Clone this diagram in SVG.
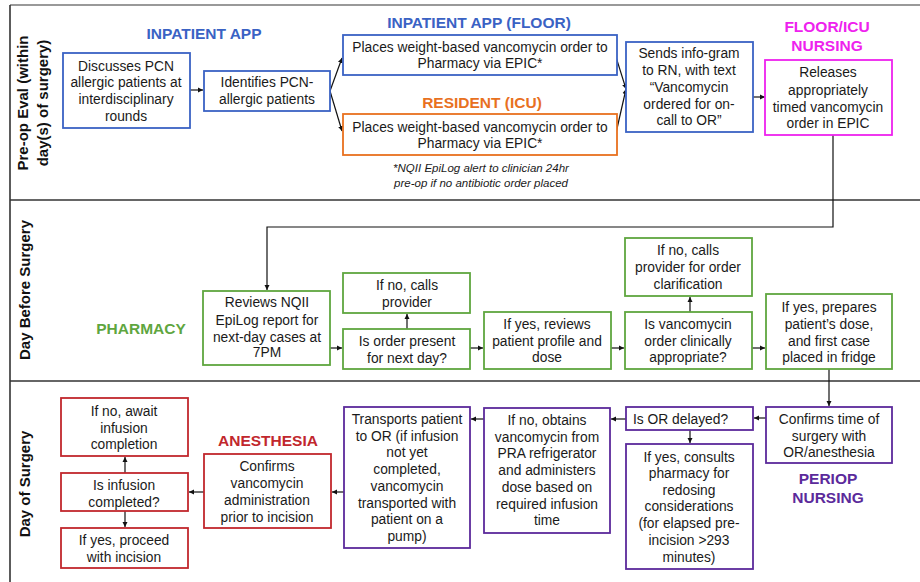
<svg xmlns="http://www.w3.org/2000/svg" width="920" height="582" viewBox="0 0 920 582">
<style>
text{font-family:"Liberation Sans",Arial,sans-serif;}
.t{font-size:13.8px;fill:#1a1a1a;text-anchor:middle;}
.h{font-size:15.5px;font-weight:bold;text-anchor:middle;}
.lane{font-size:15px;font-weight:bold;fill:#111;text-anchor:middle;}
.fn{font-size:11.5px;font-style:italic;fill:#1a1a1a;text-anchor:middle;}
rect{fill:#fff;stroke-width:1.8;}
.blue{stroke:#3a62c4;}
.orange{stroke:#e8711f;}
.mag{stroke:#ee22ee;}
.green{stroke:#5fa63f;}
.red{stroke:#c1272d;}
.purple{stroke:#5b2a9b;}
.c{fill:none;stroke:#111;stroke-width:1.2;marker-end:url(#ah);}
.frame{fill:none;stroke:#333;stroke-width:1.6;}
</style>
<defs>
<marker id="ah" markerWidth="6" markerHeight="6" refX="5" refY="3" orient="auto" markerUnits="userSpaceOnUse">
<path d="M0,0.5 L5,3 L0,5.5 z" fill="#111"/>
</marker>
</defs>
<rect x="0" y="0" width="920" height="582" style="fill:#fff;stroke:none"/>
<g id="frame">
<line x1="10" y1="5" x2="920" y2="5" class="frame" style="stroke:#777"/>
<line x1="10" y1="5" x2="10" y2="582" class="frame"/>
<line x1="10" y1="200" x2="920" y2="200" class="frame"/>
<line x1="10" y1="381" x2="920" y2="381" class="frame"/>
</g>
<g id="lanes">
<text class="lane" transform="translate(28,103) rotate(-90)">Pre-op Eval (within</text>
<text class="lane" transform="translate(48,103) rotate(-90)">day(s) of surgery)</text>
<text class="lane" transform="translate(30,290) rotate(-90)">Day Before Surgery</text>
<text class="lane" transform="translate(30,484) rotate(-90)">Day of Surgery</text>
</g>
<g id="headers">
<text class="h" x="204" y="39" fill="#3a62c4">INPATIENT APP</text>
<text class="h" x="479" y="28" fill="#3a62c4">INPATIENT APP (FLOOR)</text>
<text class="h" x="482" y="108" fill="#e8711f">RESIDENT (ICU)</text>
<text class="h" x="827" y="32" fill="#ee22ee">FLOOR/ICU</text>
<text class="h" x="827" y="51" fill="#ee22ee">NURSING</text>
<text class="h" x="141" y="334" fill="#5fa63f">PHARMACY</text>
<text class="h" x="268" y="446" fill="#c1272d">ANESTHESIA</text>
<text class="h" x="828" y="484" fill="#5b2a9b">PERIOP</text>
<text class="h" x="828" y="503" fill="#5b2a9b">NURSING</text>
</g>
<g id="footnote">
<text class="fn" x="481" y="172">*NQII EpiLog alert to clinician 24hr</text>
<text class="fn" x="481" y="187">pre-op if no antibiotic order placed</text>
</g>
<g id="connectors">
<path class="c" d="M190,90 L203,90"/>
<path class="c" d="M330,91 L342,58"/>
<path class="c" d="M330,91 L342,131"/>
<path class="c" d="M616,57 L626,89"/>
<path class="c" d="M616,133 L626,89"/>
<path class="c" d="M753,97 L765,97"/>
<path class="c" d="M833,135 L833,227 L267,227 L267,290"/>
<path class="c" d="M330,348 L342,348"/>
<path class="c" d="M407,329 L407,314"/>
<path class="c" d="M470,348 L483,348"/>
<path class="c" d="M611,348 L624,348"/>
<path class="c" d="M690,312 L690,297"/>
<path class="c" d="M752,348 L765,348"/>
<path class="c" d="M829,369 L829,406"/>
<path class="c" d="M766,418 L754,418"/>
<path class="c" d="M626,419 L611,419"/>
<path class="c" d="M690,430 L690,443"/>
<path class="c" d="M484,419 L471,419"/>
<path class="c" d="M344,492 L332,492"/>
<path class="c" d="M204,492 L189,492"/>
<path class="c" d="M125,473 L125,457"/>
<path class="c" d="M125,511 L125,527"/>
</g>
<g id="n1"><rect class="blue" x="63" y="53" width="127" height="75"/>
<text class="t" x="126" y="71">Discusses PCN</text><text class="t" x="126" y="87">allergic patients at</text><text class="t" x="126" y="104">interdisciplinary</text><text class="t" x="126" y="121">rounds</text></g>
<g id="n2"><rect class="blue" x="204" y="71" width="126" height="40"/>
<text class="t" x="267" y="87">Identifies PCN-</text><text class="t" x="267" y="104">allergic patients</text></g>
<g id="n3"><rect class="blue" x="343" y="35" width="274" height="40"/>
<text class="t" x="480" y="52">Places weight-based vancomycin order to</text><text class="t" x="480" y="68">Pharmacy via EPIC*</text></g>
<g id="n4"><rect class="orange" x="343" y="114" width="274" height="41"/>
<text class="t" x="480" y="132">Places weight-based vancomycin order to</text><text class="t" x="480" y="148">Pharmacy via EPIC*</text></g>
<g id="n5"><rect class="blue" x="626" y="42" width="127" height="90"/>
<text class="t" x="689" y="58">Sends info-gram</text><text class="t" x="689" y="75">to RN, with text</text><text class="t" x="689" y="92">“Vancomycin</text><text class="t" x="689" y="109">ordered for on-</text><text class="t" x="689" y="125">call to OR”</text></g>
<g id="n6"><rect class="mag" x="765" y="60" width="127" height="75"/>
<text class="t" x="828" y="77">Releases</text><text class="t" x="828" y="95">appropriately</text><text class="t" x="828" y="112">timed vancomycin</text><text class="t" x="828" y="128">order in EPIC</text></g>
<g id="n7"><rect class="green" x="203" y="291" width="127" height="74"/>
<text class="t" x="267" y="307">Reviews NQII</text><text class="t" x="267" y="325">EpiLog report for</text><text class="t" x="267" y="342">next-day cases at</text><text class="t" x="267" y="357">7PM</text></g>
<g id="n8"><rect class="green" x="343" y="273" width="127" height="40"/>
<text class="t" x="407" y="290">If no, calls</text><text class="t" x="407" y="307">provider</text></g>
<g id="n9"><rect class="green" x="343" y="329" width="127" height="40"/>
<text class="t" x="407" y="346">Is order present</text><text class="t" x="407" y="363">for next day?</text></g>
<g id="n10"><rect class="green" x="484" y="312" width="127" height="57"/>
<text class="t" x="547" y="329">If yes, reviews</text><text class="t" x="547" y="346">patient profile and</text><text class="t" x="547" y="362">dose</text></g>
<g id="n11"><rect class="green" x="625" y="312" width="127" height="57"/>
<text class="t" x="688" y="329">Is vancomycin</text><text class="t" x="688" y="346">order clinically</text><text class="t" x="688" y="362">appropriate?</text></g>
<g id="n12"><rect class="green" x="625" y="238" width="127" height="58"/>
<text class="t" x="688" y="255">If no, calls</text><text class="t" x="688" y="272">provider for order</text><text class="t" x="688" y="289">clarification</text></g>
<g id="n13"><rect class="green" x="766" y="294" width="126" height="75"/>
<text class="t" x="829" y="312">If yes, prepares</text><text class="t" x="829" y="329">patient’s dose,</text><text class="t" x="829" y="346">and first case</text><text class="t" x="829" y="362">placed in fridge</text></g>
<g id="n14"><rect class="purple" x="766" y="407" width="126" height="56"/>
<text class="t" x="829" y="424">Confirms time of</text><text class="t" x="829" y="441">surgery with</text><text class="t" x="829" y="457">OR/anesthesia</text></g>
<g id="n15"><rect class="purple" x="626" y="407" width="127" height="23"/>
<text class="t" x="633" y="424" style="text-anchor:start">Is OR delayed?</text></g>
<g id="n16"><rect class="purple" x="626" y="444" width="127" height="125"/>
<text class="t" x="689" y="462">If yes, consults</text><text class="t" x="689" y="478">pharmacy for</text><text class="t" x="689" y="495">redosing</text><text class="t" x="689" y="511">considerations</text><text class="t" x="689" y="528">(for elapsed pre-</text><text class="t" x="689" y="545">incision &gt;293</text><text class="t" x="689" y="562">minutes)</text></g>
<g id="n17"><rect class="purple" x="484" y="408" width="126" height="125"/>
<text class="t" x="547" y="425">If no, obtains</text><text class="t" x="547" y="442">vancomycin from</text><text class="t" x="547" y="458">PRA refrigerator</text><text class="t" x="547" y="475">and administers</text><text class="t" x="547" y="492">dose based on</text><text class="t" x="547" y="509">required infusion</text><text class="t" x="547" y="525">time</text></g>
<g id="n18"><rect class="purple" x="344" y="407" width="126" height="141"/>
<text class="t" x="407" y="424">Transports patient</text><text class="t" x="407" y="441">to OR (if infusion</text><text class="t" x="407" y="457">not yet</text><text class="t" x="407" y="474">completed,</text><text class="t" x="407" y="491">vancomycin</text><text class="t" x="407" y="508">transported with</text><text class="t" x="407" y="524">patient on a</text><text class="t" x="407" y="541">pump)</text></g>
<g id="n19"><rect class="red" x="204" y="454" width="127" height="74"/>
<text class="t" x="267" y="471">Confirms</text><text class="t" x="267" y="488">vancomycin</text><text class="t" x="267" y="505">administration</text><text class="t" x="267" y="522">prior to incision</text></g>
<g id="n20"><rect class="red" x="61" y="473" width="127" height="38"/>
<text class="t" x="124" y="490">Is infusion</text><text class="t" x="124" y="507">completed?</text></g>
<g id="n21"><rect class="red" x="61" y="398" width="127" height="58"/>
<text class="t" x="124" y="416">If no, await</text><text class="t" x="124" y="433">infusion</text><text class="t" x="124" y="449">completion</text></g>
<g id="n22"><rect class="red" x="61" y="528" width="127" height="40"/>
<text class="t" x="124" y="545">If yes, proceed</text><text class="t" x="124" y="562">with incision</text></g>
</svg>
